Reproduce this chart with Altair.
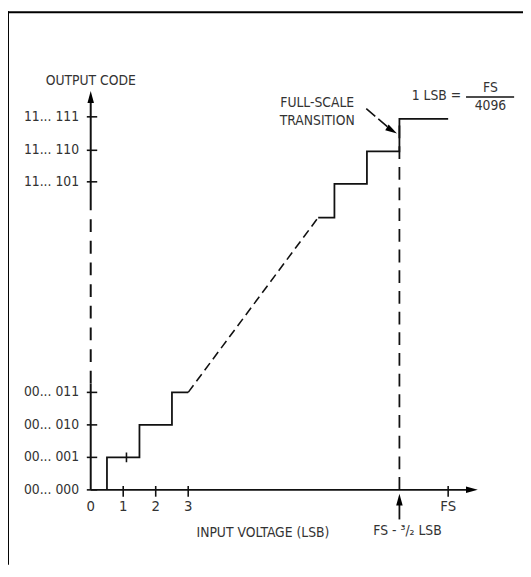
import altair as alt
import pandas as pd

# ---------------- data (LSB units) ----------------
FS = 11.0
low_x = [0.5, 0.5, 1.5, 2.5, 3.0]
low_y = [0, 1, 2, 3, 3]
diag_x = [3.0, 7.0]
diag_y = [3.0, 8.38]
high_x = [7.0, 7.5, 8.5, 9.5, 11.0]
high_y = [8.38, 9.42, 10.42, 11.42, 11.42]

ytick_vals = [0, 1, 2, 3, 9.48, 10.45, 11.48]
ytick_text = ["00... 000", "00... 001", "00... 010", "00... 011",
              "11... 101", "11... 110", "11... 111"]
xtick_vals = [1, 2, 3, 11]
xlabel_vals = [0, 1, 2, 3, 11]
xlabel_text = ["0", "1", "2", "3", "FS"]

# ---------------- geometry ----------------
W, H = 521, 559
PX = 33.0
X0, Y0 = 82.0, 483.0   # origin inside the view
xdom = [-X0 / PX, (W - X0) / PX]
ydom = [-(H - Y0) / PX, Y0 / PX]

FONT = "DejaVu Sans Condensed, Liberation Sans Narrow, sans-serif"
TXT = "#333333"
INK = "#111111"

def X(f="x"):
    return alt.X(f"{f}:Q", scale=alt.Scale(domain=xdom, nice=False, zero=False), axis=None)

def Y(f="y"):
    return alt.Y(f"{f}:Q", scale=alt.Scale(domain=ydom, nice=False, zero=False), axis=None)

def segs(rows, **kw):
    df = pd.DataFrame(rows, columns=["x", "y", "x2", "y2"])
    return alt.Chart(df).mark_rule(color=INK, **kw).encode(
        x=X(), y=Y(), x2="x2:Q", y2="y2:Q")

layers = []

# frame (left and top edges)
frame_df = pd.DataFrame({"k": [0]})
layers.append(alt.Chart(frame_df).mark_rule(color="#000", strokeWidth=2).encode(
    x=alt.value(-2), y=alt.value(-3), y2=alt.value(H)))
layers.append(alt.Chart(frame_df).mark_rule(color="#000", strokeWidth=2).encode(
    y=alt.value(-2), x=alt.value(-3), x2=alt.value(W)))

# axes
layers.append(segs([[0, 0, 0, 3.27], [0, 8.95, 0, 12.1], [0, 0, 11.75, 0]], strokeWidth=2))
layers.append(segs([[0, 3.27, 0, 8.95]], strokeWidth=2, strokeDash=[13, 9]))

# ticks
layers.append(segs([[-0.12, v, 0.2, v] for v in ytick_vals], strokeWidth=1.6))
layers.append(segs([[v, -0.21, v, 0.12] for v in xtick_vals], strokeWidth=1.6))

# transfer function
low_df = pd.DataFrame({"x": low_x, "y": low_y})
high_df = pd.DataFrame({"x": high_x, "y": high_y})
diag_df = pd.DataFrame({"x": diag_x, "y": diag_y})
layers.append(alt.Chart(low_df).mark_line(color=INK, strokeWidth=1.8, interpolate="step-after").encode(x=X(), y=Y()))
layers.append(alt.Chart(high_df).mark_line(color=INK, strokeWidth=1.8, interpolate="step-after").encode(x=X(), y=Y()))
layers.append(alt.Chart(diag_df).mark_line(color=INK, strokeWidth=1.6, strokeDash=[9, 5]).encode(x=X(), y=Y()))

# full-scale dashed vertical and small mark on first step
layers.append(segs([[FS - 1.5, 0, FS - 1.5, high_y[3]]], strokeWidth=1.8, strokeDash=[13, 8]))
layers.append(segs([[1.1, 0.85, 1.1, 1.15]], strokeWidth=1.6))

# arrow shafts
layers.append(segs([[FS - 1.5, -0.91, FS - 1.5, -0.3]], strokeWidth=1.8))
layers.append(segs([[8.48, 11.73, 9.27, 11.06]], strokeWidth=1.6, strokeDash=[12, 4]))

# arrowheads
arrow_df = pd.DataFrame({
    "x": [0, 11.73, FS - 1.5, 9.27],
    "y": [12.09, 0, -0.30, 11.06],
    "a": [0, 90, 0, 121.5],
})
layers.append(alt.Chart(arrow_df).mark_point(
    shape="M0,-1L0.55,1L-0.55,1Z", filled=True, size=144, color="#000", opacity=1, strokeWidth=0
).encode(x=X(), y=Y(), angle=alt.Angle("a:Q", scale=None)))

# fraction bar
layers.append(segs([[11.55, 12.09, 13.03, 12.09]], strokeWidth=1.3))

# texts
ylab_df = pd.DataFrame({"x": [-0.36] * len(ytick_vals), "y": ytick_vals, "t": ytick_text})
layers.append(alt.Chart(ylab_df).mark_text(align="right", baseline="middle", font=FONT,
                                           fontSize=14, color=TXT).encode(x=X(), y=Y(), text="t:N"))

xlab_df = pd.DataFrame({"x": xlabel_vals, "y": [-0.5] * len(xlabel_vals), "t": xlabel_text})
layers.append(alt.Chart(xlab_df).mark_text(align="center", baseline="middle", font=FONT,
                                           fontSize=15, color=TXT).encode(x=X(), y=Y(), text="t:N"))

ann_text = ["OUTPUT CODE", "INPUT VOLTAGE (LSB)", "FS - ³/₂ LSB", "FULL-SCALE", "TRANSITION",
            "1 LSB =", "FS", "4096"]
ann_x = [0, 5.3, 9.75, 6.97, 6.97, 10.64, 12.3, 12.3]
ann_y = [12.58, -1.33, -1.27, 11.91, 11.36, 12.12, 12.36, 11.8]
ann_df = pd.DataFrame({"x": ann_x, "y": ann_y, "t": ann_text})
layers.append(alt.Chart(ann_df).mark_text(align="center", baseline="middle", font=FONT,
                                          fontSize=14, color=TXT).encode(x=X(), y=Y(), text="t:N"))

chart = alt.layer(*layers).properties(
    width=W, height=H,
    autosize=alt.AutoSizeParams(type="none"),
    padding={"left": 2, "top": 2, "right": 0, "bottom": 0},
).configure(
    background="white",
    view=alt.ViewConfig(stroke="transparent", strokeWidth=0),
)

chart.save("out.html", embed_options={"renderer": "svg", "actions": False})
